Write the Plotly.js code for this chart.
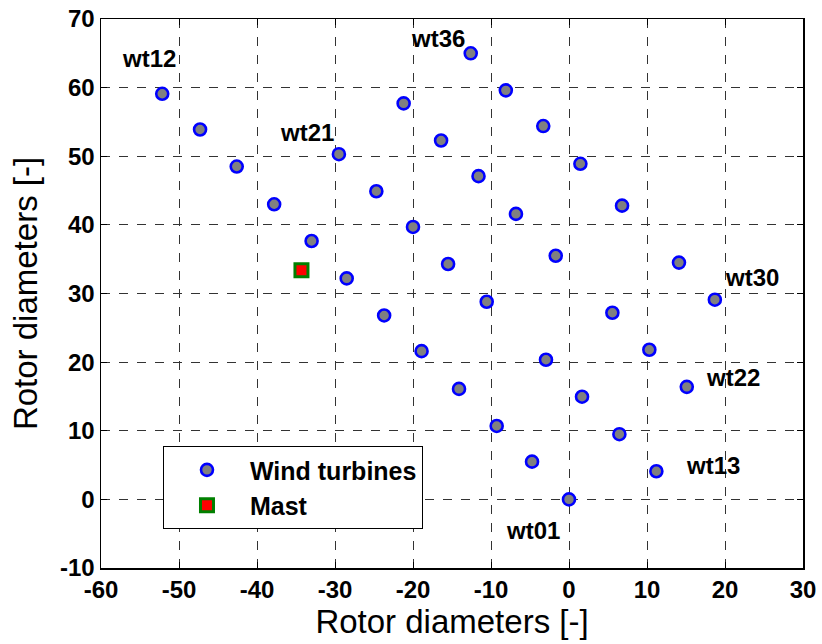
<!DOCTYPE html>
<html>
<head>
<meta charset="utf-8">
<script src="https://cdn.plot.ly/plotly-3.0.1.min.js"></script>
<style>html,body{margin:0;padding:0;background:#fff;}#chart{width:822px;height:644px;}</style>
</head>
<body>
<div id="chart"></div>
<script>
// Wind turbine positions (rotor diameters)
const turbineX = [-52.15, -47.3, -42.6, -37.8, -33.0, -28.5, -29.5, -24.7, -21.2, -16.4, -20.0, -15.5,
  -12.6, -8.1, -3.3, -11.6, -6.8, 1.46, 6.8, -1.7, 14.1, 18.7, -10.55, 5.56, 10.3, -2.95,
  -14.1, 1.67, 15.1, -9.27, 6.46, -4.74, 11.2, 0.0, -23.7, -18.9];
const turbineY = [59.1, 53.9, 48.5, 43.0, 37.65, 32.2, 50.3, 44.9, 57.7, 52.3, 39.7, 34.3,
  65.0, 59.6, 54.4, 47.1, 41.6, 48.9, 42.8, 35.5, 34.5, 29.1, 28.8, 27.2, 21.8, 20.35,
  16.1, 14.96, 16.4, 10.7, 9.5, 5.5, 4.1, 0.0, 26.8, 21.6];
const mastX = [-34.3];
const mastY = [33.4];

const labelText = ['wt12', 'wt21', 'wt36', 'wt30', 'wt22', 'wt13', 'wt01'];
const labelX = [-53.8, -33.6, -16.8, 23.4, 21.0, 18.4, -4.6];
const labelY = [64.3, 53.5, 67.2, 32.3, 17.7, 5.0, -4.5];

const xTicks = [-60, -50, -40, -30, -20, -10, 0, 10, 20, 30];
const yTicks = [-10, 0, 10, 20, 30, 40, 50, 60, 70];

const fontFam = 'Liberation Sans, Arial, sans-serif';

const traces = [
  {
    x: turbineX, y: turbineY, type: 'scatter', mode: 'markers', name: 'Wind turbines',
    marker: {symbol: 'circle', size: 12, color: '#808080', line: {color: '#0000ff', width: 2.6}}
  },
  {
    x: mastX, y: mastY, type: 'scatter', mode: 'markers', name: 'Mast',
    marker: {symbol: 'square', size: 13, color: '#ff0000', line: {color: '#008000', width: 3}}
  }
];

const annotations = labelText.map((t, i) => ({
  x: labelX[i], y: labelY[i], xref: 'x', yref: 'y', text: '<b>' + t + '</b>',
  showarrow: false, font: {family: fontFam, size: 24, color: '#000'}
}));

const axisCommon = {
  showgrid: true, gridcolor: '#333', griddash: 'dash', gridwidth: 1,
  zeroline: false, showline: true, linecolor: '#000', linewidth: 1.5, mirror: 'ticks',
  ticks: 'inside', ticklen: 6, tickcolor: '#000', tickwidth: 1,
  tickfont: {family: fontFam, size: 24, color: '#000', weight: 'bold'}
};

const layout = {
  width: 822, height: 644,
  margin: {l: 101, r: 19, t: 19, b: 76},
  paper_bgcolor: '#fff', plot_bgcolor: '#fff',
  showlegend: true,
  xaxis: Object.assign({}, axisCommon, {
    range: [-60, 30], tickvals: xTicks, ticktext: xTicks.map(String),
    title: {text: 'Rotor diameters [-]', font: {family: fontFam, size: 33, color: '#000'}, standoff: 2}
  }),
  yaxis: Object.assign({}, axisCommon, {
    range: [-10, 70], tickvals: yTicks, ticktext: yTicks.map(String),
    title: {text: 'Rotor diameters [-]', font: {family: fontFam, size: 33, color: '#000'}, standoff: 12}
  }),
  legend: {
    x: 0.0883, y: 0.222, xanchor: 'left', yanchor: 'top',
    bgcolor: '#fff', bordercolor: '#000', borderwidth: 1,
    font: {family: fontFam, size: 25, color: '#000', weight: 'bold'},
    itemwidth: 76, tracegroupgap: 0
  },
  annotations: annotations
};

Plotly.newPlot('chart', traces, layout, {displayModeBar: false, staticPlot: true});
</script>
</body>
</html>
